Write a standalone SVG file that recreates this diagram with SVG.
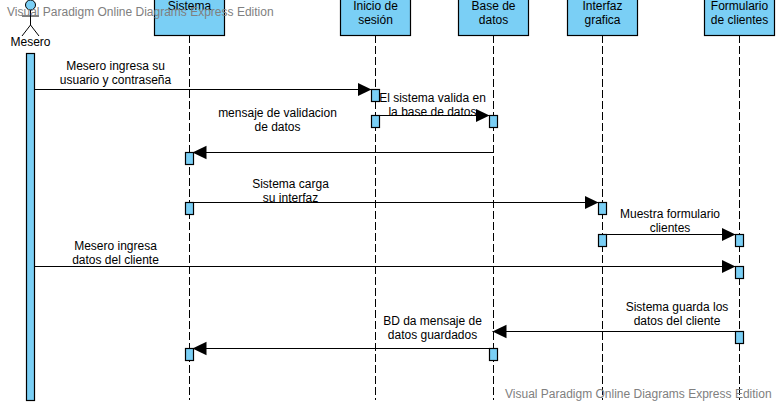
<svg xmlns="http://www.w3.org/2000/svg" width="777" height="403" viewBox="0 0 777 403">
<style>
text{font-family:"Liberation Sans",Arial,sans-serif;font-size:12px;fill:#000;text-anchor:middle}
.box{fill:#7ACFF5;stroke:#000;stroke-width:1.2}
.life{stroke:#000;stroke-width:1;stroke-dasharray:8 3;fill:none}
.msg{stroke:#000;stroke-width:1;fill:none;marker-end:url(#arr)}
.wm{font-size:12px;fill:#808080;text-anchor:start}
.fig{stroke:#000;stroke-width:1;fill:none}
</style>
<defs>
<marker id="arr" markerUnits="userSpaceOnUse" markerWidth="16" markerHeight="16" refX="14" refY="8" orient="auto"><path d="M0 1.300L14 8L0 14.700Z" fill="#000"/></marker>
</defs>
<rect width="777" height="403" fill="#fff"/>
<g id="lifelines">
<line class="life" x1="189.500" y1="35" x2="189.500" y2="400"/>
<line class="life" x1="375.500" y1="35" x2="375.500" y2="400"/>
<line class="life" x1="493.500" y1="35" x2="493.500" y2="400"/>
<line class="life" x1="602.500" y1="35" x2="602.500" y2="400"/>
<line class="life" x1="739.500" y1="35" x2="739.500" y2="400"/>
</g>
<g id="actor-mesero">
<circle cx="30.500" cy="5" r="5" fill="#7ACFF5" stroke="#000"/>
<path class="fig" d="M30.500 10V25M22 16H39M22 36L30.500 25L39 36"/>
<text x="30.500" y="46">Mesero</text>
<rect class="box" x="26.500" y="53.500" width="8" height="347"/>
</g>
<g id="node-sistema"><rect class="box" x="154.500" y="-1" width="70" height="36.500"/><text x="189.500" y="10">Sistema</text></g>
<g id="node-inicio"><rect class="box" x="340.500" y="-1" width="70" height="36.500"/><text x="375.500" y="10">Inicio de</text><text x="375.500" y="24">sesión</text></g>
<g id="node-base"><rect class="box" x="458.500" y="-1" width="70" height="36.500"/><text x="493.500" y="10">Base de</text><text x="493.500" y="24">datos</text></g>
<g id="node-interfaz"><rect class="box" x="567.500" y="-1" width="70" height="36.500"/><text x="602.500" y="10">Interfaz</text><text x="602.500" y="24">grafica</text></g>
<g id="node-formulario"><rect class="box" x="704.500" y="-1" width="70" height="36.500"/><text x="739.500" y="10">Formulario</text><text x="739.500" y="24">de clientes</text></g>
<g id="activations">
<rect class="box" x="371.500" y="89.500" width="8" height="12"/>
<rect class="box" x="371.500" y="115.500" width="8" height="12"/>
<rect class="box" x="489.500" y="115.500" width="8" height="12"/>
<rect class="box" x="185.500" y="152.500" width="8" height="12"/>
<rect class="box" x="185.500" y="202.500" width="8" height="12"/>
<rect class="box" x="598.500" y="202.500" width="8" height="12"/>
<rect class="box" x="598.500" y="234.500" width="8" height="12"/>
<rect class="box" x="735.500" y="234.500" width="8" height="12"/>
<rect class="box" x="735.500" y="266.500" width="8" height="12"/>
<rect class="box" x="735.500" y="331.500" width="8" height="12"/>
<rect class="box" x="489.500" y="348.500" width="8" height="12"/>
<rect class="box" x="185.500" y="348.500" width="8" height="12"/>
</g>
<g id="connectors">
<line class="msg" x1="34" y1="89.500" x2="371.500" y2="89.500"/>
<line class="msg" x1="379" y1="115.500" x2="489.500" y2="115.500"/>
<line class="msg" x1="493" y1="152.500" x2="192.500" y2="152.500"/>
<line class="msg" x1="193" y1="202.500" x2="598.500" y2="202.500"/>
<line class="msg" x1="606" y1="234.500" x2="735.500" y2="234.500"/>
<line class="msg" x1="34" y1="266.500" x2="735.500" y2="266.500"/>
<line class="msg" x1="735" y1="331.500" x2="492.500" y2="331.500"/>
<line class="msg" x1="489" y1="348.500" x2="192.500" y2="348.500"/>
</g>
<g id="labels">
<text x="115.500" y="70">Mesero ingresa su</text><text x="115.500" y="84">usuario y contraseña</text>
<text x="432.500" y="102">El sistema valida en</text><text x="432.500" y="116">la base de datos</text>
<text x="277.500" y="117">mensaje de validacion</text><text x="277.500" y="131">de datos</text>
<text x="290.500" y="188">Sistema carga</text><text x="290.500" y="202">su interfaz</text>
<text x="670" y="218">Muestra formulario</text><text x="670" y="232">clientes</text>
<text x="115.500" y="250">Mesero ingresa</text><text x="115.500" y="264">datos del cliente</text>
<text x="677" y="311">Sistema guarda los</text><text x="677" y="325">datos del cliente</text>
<text x="432.500" y="325">BD da mensaje de</text><text x="432.500" y="339">datos guardados</text>
</g>
<g id="watermarks">
<text class="wm" x="7" y="16">Visual Paradigm Online Diagrams Express Edition</text>
<text class="wm" x="505" y="398">Visual Paradigm Online Diagrams Express Edition</text>
</g>
</svg>
